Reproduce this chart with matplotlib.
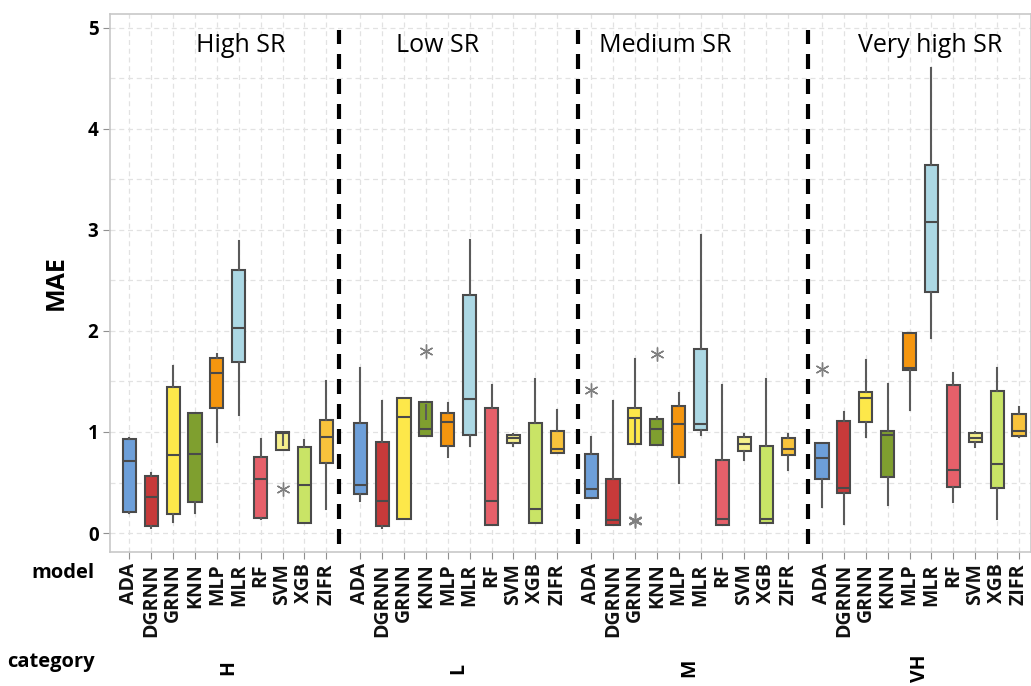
import matplotlib.pyplot as plt
import numpy as np

plt.rcParams['font.family'] = ['Open Sans', 'DejaVu Sans']

models = ["ADA", "DGRNN", "GRNN", "KNN", "MLP", "MLR", "RF", "SVM", "XGB", "ZIFR"]
categories = ["H", "L", "M", "VH"]
titles = ["High SR", "Low SR", "Medium SR", "Very high SR"]
colors = ["#6d9fd9", "#c73a3a", "#fde84a", "#7f9f2f", "#f5960f",
          "#acd8e4", "#e6606a", "#f6f08c", "#c9e466", "#f8c33c"]

# per category: rows = models
# whisker low, Q1, median, Q3, whisker high
H = [[0.20, 0.21, 0.71, 0.93, 0.94],
     [0.05, 0.07, 0.36, 0.56, 0.59],
     [0.11, 0.19, 0.77, 1.45, 1.65],
     [0.20, 0.31, 0.78, 1.19, 1.19],
     [0.90, 1.24, 1.58, 1.73, 1.77],
     [1.17, 1.69, 2.03, 2.60, 2.89],
     [0.14, 0.15, 0.53, 0.75, 0.93],
     [0.82, 0.82, 0.99, 1.00, 1.00],
     [0.10, 0.10, 0.48, 0.85, 0.92],
     [0.24, 0.69, 0.95, 1.12, 1.50]]
L = [[0.32, 0.39, 0.48, 1.09, 1.63],
     [0.05, 0.07, 0.32, 0.90, 1.31],
     [0.14, 0.14, 1.15, 1.34, 1.34],
     [0.96, 0.96, 1.03, 1.30, 1.30],
     [0.75, 0.86, 1.10, 1.19, 1.29],
     [0.86, 0.97, 1.33, 2.36, 2.90],
     [0.08, 0.08, 0.32, 1.24, 1.47],
     [0.86, 0.89, 0.94, 0.97, 0.98],
     [0.10, 0.10, 0.24, 1.09, 1.52],
     [0.79, 0.79, 0.83, 1.01, 1.22]]
M = [[0.35, 0.35, 0.44, 0.78, 0.95],
     [0.08, 0.08, 0.13, 0.53, 1.31],
     [0.88, 0.88, 1.14, 1.24, 1.72],
     [0.87, 0.87, 1.03, 1.13, 1.15],
     [0.50, 0.75, 1.08, 1.26, 1.39],
     [0.97, 1.02, 1.08, 1.82, 2.95],
     [0.08, 0.08, 0.14, 0.72, 1.47],
     [0.72, 0.81, 0.88, 0.95, 0.98],
     [0.10, 0.10, 0.14, 0.86, 1.52],
     [0.62, 0.77, 0.83, 0.94, 0.98]]
VH = [[0.26, 0.53, 0.74, 0.89, 0.89],
      [0.09, 0.40, 0.45, 1.11, 1.20],
      [0.95, 1.10, 1.34, 1.40, 1.71],
      [0.28, 0.55, 0.97, 1.01, 1.48],
      [1.22, 1.61, 1.63, 1.98, 1.98],
      [1.93, 2.39, 3.08, 3.64, 4.60],
      [0.31, 0.46, 0.62, 1.47, 1.58],
      [0.85, 0.90, 0.94, 0.99, 1.00],
      [0.14, 0.45, 0.68, 1.41, 1.63],
      [0.95, 0.96, 1.01, 1.18, 1.25]]
stats_by_cat = [H, L, M, VH]

# outliers (category index, model index, value)
outliers = [(0, 7, 0.44), (1, 3, 1.80), (2, 0, 1.42), (2, 2, 0.12),
            (2, 2, 0.13), (2, 3, 1.77), (3, 0, 1.62)]
# short stray segments drawn inside a few boxes (category, model, low, high)
inner_lines = [(0, 7, 0.86, 0.98), (1, 3, 1.12, 1.28), (2, 2, 0.88, 1.14)]

group_step = 10.55
sep_x = [9.6, 20.5, 31.0]
title_x = [5.1, 14.1, 24.5, 36.6]

fig = plt.figure(figsize=(10.31, 6.86), dpi=100)
ax = fig.add_axes([0.107, 0.195, 0.893, 0.785])

stats, positions, facecolors = [], [], []
for g, rows in enumerate(stats_by_cat):
    for i, (lo, q1, med, q3, hi) in enumerate(rows):
        fl = [v for (cg, cm, v) in outliers if cg == g and cm == i]
        stats.append(dict(whislo=lo, q1=q1, med=med, q3=q3, whishi=hi, fliers=fl))
        positions.append(g * group_step + i)
        facecolors.append(colors[i])

bp = ax.bxp(stats, positions=positions, widths=0.6, patch_artist=True,
            showcaps=False,
            boxprops=dict(edgecolor="#4a4a4a", linewidth=1.5),
            medianprops=dict(color="#4a4a4a", linewidth=1.5),
            whiskerprops=dict(color="#5a5a5a", linewidth=1.5),
            flierprops=dict(marker=(6, 2, 0), markersize=10, markeredgecolor="#808080",
                            markeredgewidth=1.0, linestyle="none"))
for patch, c in zip(bp["boxes"], facecolors):
    patch.set_facecolor(c)

for g, i, lo, hi in inner_lines:
    ax.vlines(g * group_step + i, lo, hi, color="#5a5a5a", linewidth=1.5, zorder=3)

for sx in sep_x:
    ax.axvline(sx, ymin=0.015, ymax=0.97, color="black",
               linestyle=(0, (3.6, 2.4)), linewidth=3.0)

for tx, t in zip(title_x, titles):
    ax.text(tx, 4.83, t, ha="center", va="center", fontsize=18)

ax.set_xlim(-0.87, 41.2)
ax.set_ylim(-0.19, 5.14)
ax.set_yticks([0, 1, 2, 3, 4, 5])
ax.set_yticks(np.arange(0.5, 5, 1.0), minor=True)
ax.set_xticks(positions)
ax.set_xticklabels(models * 4, rotation=90, fontsize=14, fontweight="bold")
ax.tick_params(axis="y", labelsize=13.5, colors="#909090", length=5)
for lbl in ax.get_yticklabels():
    lbl.set_color("black")
    lbl.set_fontweight("bold")
ax.tick_params(axis="y", which="minor", length=0)
ax.tick_params(axis="x", colors="#909090", length=5, pad=3)
for lbl in ax.get_xticklabels():
    lbl.set_color("#111111")
ax.grid(True, which="both", linestyle=(0, (4, 3)), color="#e2e2e2", linewidth=0.9)
ax.set_axisbelow(True)
for sp in ax.spines.values():
    sp.set_color("#c8c8c8")
    sp.set_linewidth(1.2)

ax.set_ylabel("MAE", fontsize=18, fontweight="bold", labelpad=14)

fig.text(0.092, 0.165, "model", ha="right", va="center", fontsize=14.5, fontweight="bold")
fig.text(0.092, 0.035, "category", ha="right", va="center", fontsize=14.5, fontweight="bold")
for g, c in enumerate(categories):
    ax.text(g * group_step + 4.5, -0.215, c, transform=ax.get_xaxis_transform(),
            rotation=90, ha="center", va="center", fontsize=14, fontweight="bold")

fig.savefig("out.png", dpi=100)
